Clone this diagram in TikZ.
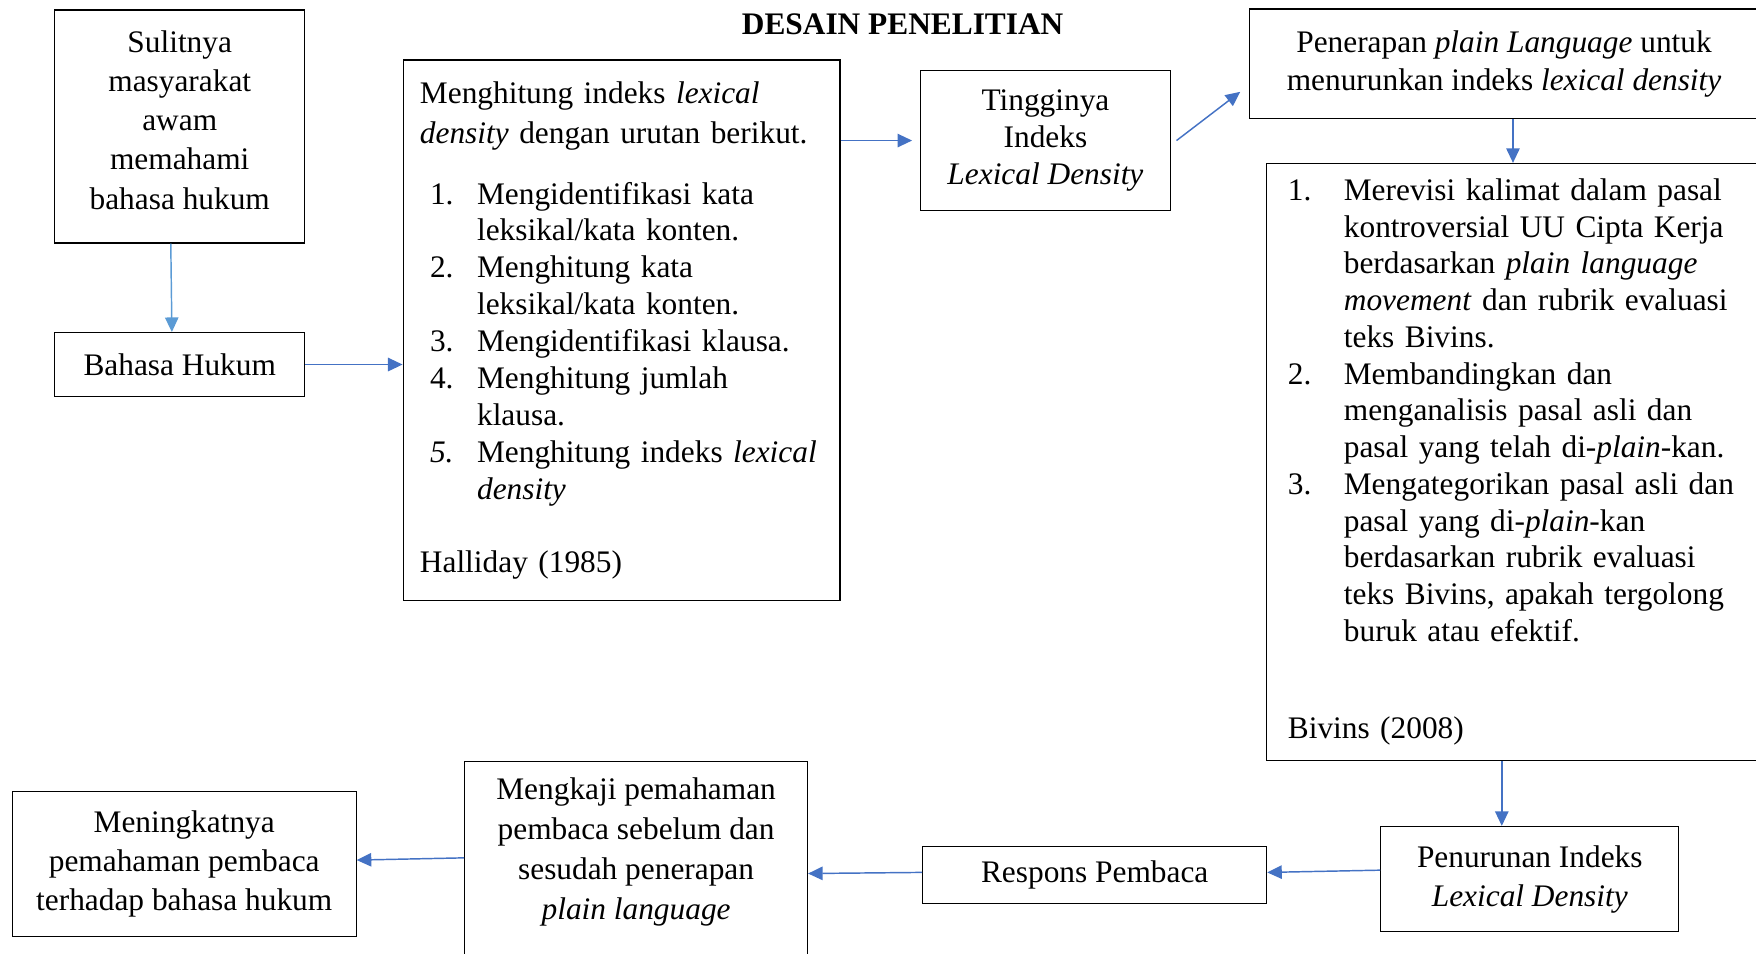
\documentclass[tikz,border=0pt]{standalone}
\usepackage{fontspec}
\setmainfont{Liberation Serif}
\usetikzlibrary{arrows.meta}
\definecolor{arrowblue}{HTML}{4472C4}
\definecolor{lightblue}{HTML}{5B9BD5}
\newcommand{\itm}[1]{\hspace*{9pt}\makebox[42pt][l]{#1}}
\newcommand{\cnt}{\hspace*{51pt}}
\newcommand{\ritm}[1]{\makebox[50pt][l]{#1}}
\newcommand{\rcnt}{\hspace*{50pt}}
\begin{document}
\begin{tikzpicture}[x=1pt,y=-1pt,
  box/.style={draw,line width=1.1pt,align=center,inner sep=0pt,font=\fontsize{28}{35}\selectfont},
  conn/.style={arrowblue,line width=1.3pt,-{Triangle[length=13pt,width=12pt]}}]
\clip (0,0) rectangle (1568,851);
\node[font=\fontsize{28}{34}\selectfont\bfseries] (title) at (806,22) {DESAIN PENELITIAN};
\node[box,minimum width=223pt,minimum height=208pt,text depth=12pt] (sulit) at (160.5,113)
  {Sulitnya\\ masyarakat\\ awam\\ memahami\\ bahasa hukum};
\node[box,minimum width=223pt,minimum height=57pt] (hukum) at (160.5,325.5) {Bahasa Hukum};
\node[box,align=left,text width=360pt,inner xsep=15pt,minimum height=483pt,
  font=\fontsize{28}{33}\selectfont] (hitung) at (555,295)
  {Menghitung indeks \textit{lexical}\\[3pt]
   \textit{density} dengan urutan berikut.\\[21pt]
   \itm{1.}Mengidentifikasi kata\\
   \cnt leksikal/kata konten.\\
   \itm{2.}Menghitung kata\\
   \cnt leksikal/kata konten.\\
   \itm{3.}Mengidentifikasi klausa.\\
   \itm{4.}Menghitung jumlah\\
   \cnt klausa.\\
   \itm{\textit{5.}}Menghitung indeks \textit{lexical}\\
   \cnt\textit{density}\\[32pt]
   Halliday (1985)};
\node[box,minimum width=223pt,minimum height=125pt,font=\fontsize{28}{33}\selectfont] (tinggi) at (933.5,125.5)
  {Tingginya\\ Indeks\\ \textit{Lexical Density}};
\node[box,minimum width=454pt,minimum height=98pt,font=\fontsize{28}{34}\selectfont] (terap) at (1343,57)
  {Penerapan \textit{plain Language} untuk\\ menurunkan indeks \textit{lexical density}};
\node[box,align=left,text width=431pt,inner xsep=19pt,minimum height=533pt,
  font=\fontsize{28}{32.8}\selectfont] (revisi) at (1365.5,412.5)
  {\ritm{1.}Merevisi kalimat dalam pasal\\
   \rcnt kontroversial UU Cipta Kerja\\
   \rcnt berdasarkan \textit{plain language}\\
   \rcnt\textit{movement} dan rubrik evaluasi\\
   \rcnt teks Bivins.\\
   \ritm{2.}Membandingkan dan\\
   \rcnt menganalisis pasal asli dan\\
   \rcnt pasal yang telah di-\textit{plain}-kan.\\
   \ritm{3.}Mengategorikan pasal asli dan\\
   \rcnt pasal yang di-\textit{plain}-kan\\
   \rcnt berdasarkan rubrik evaluasi\\
   \rcnt teks Bivins, apakah tergolong\\
   \rcnt buruk atau efektif.\\[54pt]
   Bivins (2008)};
\node[box,minimum width=266pt,minimum height=94pt] (turun) at (1366,785)
  {Penurunan Indeks\\ \textit{Lexical Density}};
\node[box,minimum width=307pt,minimum height=51pt] (respons) at (977.5,781.5) {Respons Pembaca};
\node[box,minimum width=306pt,minimum height=182pt,text depth=26pt,font=\fontsize{28}{35.7}\selectfont] (kaji) at (568,771)
  {Mengkaji pemahaman\\ pembaca sebelum dan\\ sesudah penerapan\\ \textit{plain language}};
\node[box,minimum width=307pt,minimum height=129pt] (tingkat) at (164.5,771.5)
  {Meningkatnya\\ pemahaman pembaca\\ terhadap bahasa hukum};
% connectors
\draw[conn,lightblue] ([xshift=-8pt]sulit.south) -- ([xshift=-7pt]hukum.north);
\draw[conn] (hukum.east) -- (hukum.east -| hitung.west);
\draw[conn,shorten >=7pt] (tinggi.west -| hitung.east) -- (tinggi.west);
\draw[conn] ([xshift=5pt]tinggi.east) -- ([xshift=-8pt,yshift=-25pt]terap.west);
\draw[conn] ([xshift=8pt]terap.south) -- ([xshift=8pt]terap.south |- revisi.north);
\draw[conn] ([xshift=-25pt]turun.north |- revisi.south) -- ([xshift=-25pt]turun.north);
\draw[conn] ([yshift=8pt]turun.west) -- ([yshift=2.5pt]respons.east);
\draw[conn] ([yshift=2.5pt]respons.west) -- ([yshift=-9pt]kaji.east);
\draw[conn] ([yshift=5pt]kaji.west) -- ([yshift=3.5pt]tingkat.east);
\end{tikzpicture}
\end{document}
